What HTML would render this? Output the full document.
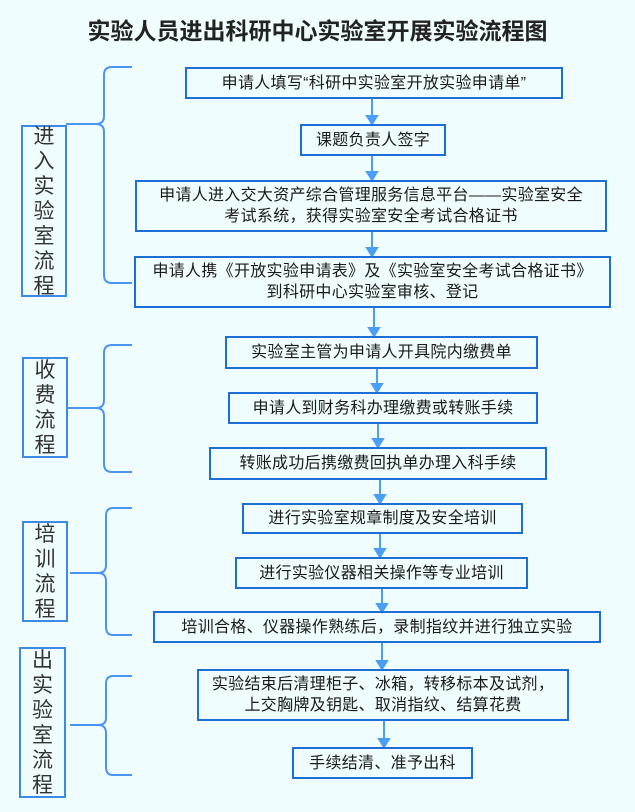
<!DOCTYPE html>
<html><head><meta charset="utf-8"><style>
body{margin:0;width:635px;height:812px;background:#effdfe;position:relative;overflow:hidden;font-family:"Liberation Sans","Noto Sans CJK SC",sans-serif;color:#1a1a1a}
.b{position:absolute;box-sizing:border-box;border:2.5px solid #1d6fd6;display:flex;align-items:center;justify-content:center;text-align:center;font-size:16px;letter-spacing:0.3px;line-height:21px;white-space:nowrap}
.l{position:absolute;box-sizing:border-box;border:2px solid #3b8ae6;font-size:21px;line-height:25px;text-align:center;display:flex;align-items:center;justify-content:center;color:#333}
.t{position:absolute;left:0;top:12px;width:635px;text-align:center;font-size:23px;font-weight:bold;color:#222}
svg{position:absolute;left:0;top:0}
</style></head><body>
<div class="t">实验人员进出科研中心实验室开展实验流程图</div>
<svg width="635" height="812">
<g fill="none" stroke="#4a95f0" stroke-width="2">
<path d="M132 67 H112 Q104 67 104 75 V116 Q104 124 96 124 H66 H96 Q104 124 104 132 V275 Q104 283 112 283 H132"/>
<path d="M132 345 H112 Q104 345 104 353 V400 Q104 408 96 408 H68 H96 Q104 408 104 416 V464 Q104 472 112 472 H132"/>
<path d="M132 508 H113 Q106 508 106 516 V565 Q106 573 98 573 H70 H98 Q106 573 106 581 V627 Q106 635 113 635 H132"/>
<path d="M132 676 H113 Q106 676 106 684 V718 Q106 725 98 725 H70 H98 Q106 725 106 733 V767 Q106 775 113 775 H132"/>
</g>
<g stroke="#4a9ff5" stroke-width="2" fill="#4a9ff5">
<line x1="372" y1="99" x2="372" y2="118"/><path d="M367 116 L372 124 L377 116Z"/>
<line x1="372" y1="156" x2="372" y2="174"/><path d="M367 172 L372 180 L377 172Z"/>
<line x1="372" y1="232" x2="372" y2="250"/><path d="M367 248 L372 256 L377 248Z"/>
<line x1="374" y1="308" x2="374" y2="330"/><path d="M369 328 L374 336 L379 328Z"/>
<line x1="377" y1="369" x2="377" y2="386"/><path d="M372 384 L377 392 L382 384Z"/>
<line x1="378" y1="424" x2="378" y2="441"/><path d="M373 439 L378 447 L383 439Z"/>
<line x1="380" y1="480" x2="380" y2="497"/><path d="M375 495 L380 503 L385 495Z"/>
<line x1="380" y1="534" x2="380" y2="551"/><path d="M375 549 L380 557 L385 549Z"/>
<line x1="382" y1="589" x2="382" y2="606"/><path d="M377 604 L382 612 L387 604Z"/>
<line x1="382" y1="643" x2="382" y2="663"/><path d="M377 661 L382 669 L387 661Z"/>
<line x1="384" y1="721" x2="384" y2="741"/><path d="M379 739 L384 747 L389 739Z"/>
</g>
</svg>
<div class="l" style="left:21px;top:125px;width:46px;height:172px">进<br>入<br>实<br>验<br>室<br>流<br>程</div>
<div class="l" style="left:22px;top:357px;width:46px;height:101px">收<br>费<br>流<br>程</div>
<div class="l" style="left:22px;top:521px;width:46px;height:101px">培<br>训<br>流<br>程</div>
<div class="l" style="left:19px;top:647px;width:47px;height:151px">出<br>实<br>验<br>室<br>流<br>程</div>
<div class="b" style="left:185px;top:67px;width:378px;height:32px">申请人填写“科研中实验室开放实验申请单”</div>
<div class="b" style="left:300px;top:124px;width:146px;height:32px">课题负责人签字</div>
<div class="b" style="left:135px;top:180px;width:472px;height:52px">申请人进入交大资产综合管理服务信息平台——实验室安全<br>考试系统，获得实验室安全考试合格证书</div>
<div class="b" style="left:134px;top:256px;width:477px;height:52px">申请人携《开放实验申请表》及《实验室安全考试合格证书》<br>到科研中心实验室审核、登记</div>
<div class="b" style="left:225px;top:336px;width:313px;height:33px">实验室主管为申请人开具院内缴费单</div>
<div class="b" style="left:228px;top:392px;width:310px;height:32px">申请人到财务科办理缴费或转账手续</div>
<div class="b" style="left:209px;top:447px;width:338px;height:33px">转账成功后携缴费回执单办理入科手续</div>
<div class="b" style="left:242px;top:503px;width:281px;height:31px">进行实验室规章制度及安全培训</div>
<div class="b" style="left:235px;top:557px;width:293px;height:32px">进行实验仪器相关操作等专业培训</div>
<div class="b" style="left:153px;top:611px;width:448px;height:32px">培训合格、仪器操作熟练后，录制指纹并进行独立实验</div>
<div class="b" style="left:197px;top:669px;width:372px;height:52px">实验结束后清理柜子、冰箱，转移标本及试剂，<br>上交胸牌及钥匙、取消指纹、结算花费</div>
<div class="b" style="left:292px;top:747px;width:181px;height:32px">手续结清、准予出科</div>
</body></html>
